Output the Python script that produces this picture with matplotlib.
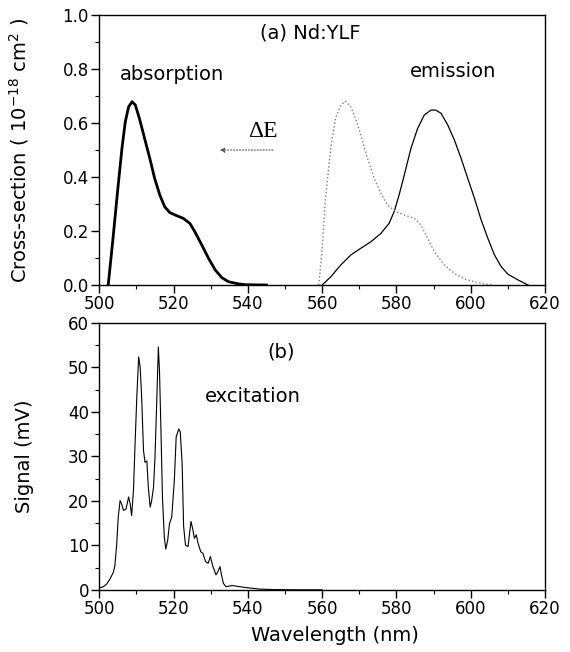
import matplotlib.pyplot as plt
from matplotlib.ticker import MultipleLocator, FormatStrFormatter

# === Data ===
# (a) absorption cross-section, thick line
abs_wl = [502.4, 503.6, 505.0, 506.1, 507.0, 507.9, 508.8, 509.7, 510.8, 512.2,
          513.6, 514.9, 516.3, 517.6, 519.0, 520.8, 522.6, 524.4, 525.7, 527.6,
          529.4, 531.2, 533.0, 534.8, 537.5, 539.3, 545.0]
abs_cs = [0.0, 0.16, 0.358, 0.506, 0.605, 0.66, 0.679, 0.667, 0.617, 0.543,
          0.469, 0.395, 0.333, 0.29, 0.268, 0.257, 0.247, 0.228, 0.198, 0.148,
          0.099, 0.056, 0.027, 0.012, 0.004, 0.001, 0.0]

# (a) emission cross-section, thin line
em_wl = [560.0, 562.3, 565.0, 567.7, 570.4, 573.1, 575.8, 578.0, 579.4, 580.7,
         582.1, 583.9, 585.7, 587.5, 589.3, 590.6, 592.0, 593.8, 595.6, 597.4,
         599.2, 601.0, 602.8, 604.6, 606.4, 608.2, 610.0, 612.7, 615.4]
em_cs = [0.0, 0.03, 0.074, 0.111, 0.136, 0.16, 0.191, 0.228, 0.272, 0.333,
         0.407, 0.506, 0.58, 0.63, 0.648, 0.648, 0.636, 0.593, 0.537, 0.469,
         0.395, 0.321, 0.241, 0.173, 0.111, 0.068, 0.04, 0.019, 0.0]

# (a) absorption shifted by Delta E, dotted
shift_wl = [559.1, 560.0, 560.9, 562.3, 563.6, 565.0, 566.3, 567.7, 569.0, 570.4,
            572.2, 574.0, 575.8, 577.6, 579.8, 582.1, 584.8, 586.6, 588.4, 590.2,
            592.9, 595.6, 598.3, 601.9, 605.5]
shift_cs = [0.0, 0.136, 0.321, 0.506, 0.617, 0.667, 0.681, 0.66, 0.617, 0.556,
            0.469, 0.395, 0.34, 0.296, 0.272, 0.259, 0.247, 0.222, 0.173, 0.123,
            0.074, 0.043, 0.022, 0.009, 0.0]

# (b) excitation spectrum
exc_wl = [500.0, 501.1, 502.0, 502.9, 503.8, 504.2, 504.7, 505.1, 505.6, 506.0,
          506.5, 507.2, 507.9, 508.3, 508.7, 509.2, 509.6, 510.1, 510.6, 511.0,
          511.4, 511.9, 512.3, 512.8, 513.2, 513.7, 514.1, 514.6, 515.0, 515.5,
          515.9, 516.2, 516.6, 517.0, 517.5, 517.9, 518.4, 518.9, 519.5, 520.2,
          520.7, 521.4, 521.8, 522.3, 522.7, 523.2, 523.9, 524.3, 524.7, 525.2,
          525.6, 526.1, 526.6, 527.3, 527.9, 528.6, 529.3, 529.9, 530.6, 531.4,
          531.9, 532.5, 532.9, 533.4, 534.1, 535.9, 537.7, 540.0, 543.2, 546.8,
          552.0, 560.0]
exc_sig = [0.45, 0.75, 1.35, 2.5, 4.0, 5.5, 10.4, 16.4, 20.1, 19.4,
           17.9, 18.2, 20.9, 19.4, 16.7, 22.4, 32.1, 43.4, 52.4, 50.1,
           43.4, 31.4, 28.7, 29.0, 23.1, 18.6, 20.1, 23.1, 29.9, 43.4,
           54.6, 49.4, 35.9, 20.9, 11.9, 9.2, 11.1, 14.9, 16.4, 24.6,
           34.4, 36.2, 35.5, 28.4, 14.3, 10.1, 9.75, 12.75, 15.4, 13.5,
           11.6, 12.4, 10.5, 8.6, 8.25, 6.4, 6.0, 7.5, 5.25, 3.4,
           4.1, 5.25, 3.4, 1.5, 0.75, 1.0, 0.75, 0.5, 0.2, 0.1,
           0.05, 0.05]

plt.rcParams['font.family'] = ['DejaVu Sans']
plt.rcParams['mathtext.fontset'] = 'dejavusans'

fig = plt.figure(figsize=(5.7, 6.52), dpi=100)
ax1 = fig.add_axes([0.1742, 0.5629, 0.782, 0.414])
ax2 = fig.add_axes([0.1742, 0.0951, 0.782, 0.4095])

# === (a) cross-sections ===
ax1.plot(abs_wl, abs_cs, color='black', lw=2.0)
ax1.plot(em_wl, em_cs, color='black', lw=0.9)
ax1.plot(shift_wl, shift_cs, color='#808080', lw=1.0, ls=':')
ax1.annotate('', xy=(531.6, 0.5), xytext=(547.5, 0.5),
             arrowprops=dict(arrowstyle='-|>', color='#555555', lw=0.8,
                             ls=':', mutation_scale=7))
ax1.text(544.1, 0.57, 'ΔE', family='Liberation Serif', fontsize=17,
         ha='center', va='center')
ax1.text(556.8, 0.933, '(a) Nd:YLF', ha='center', va='center', fontsize=14)
ax1.text(519.5, 0.778, 'absorption', ha='center', va='center', fontsize=14)
ax1.text(595.3, 0.79, 'emission', ha='center', va='center', fontsize=14)

ax1.set_xlim(500, 620)
ax1.set_ylim(0, 1.0)
ax1.xaxis.set_major_locator(MultipleLocator(20))
ax1.xaxis.set_minor_locator(MultipleLocator(10))
ax1.yaxis.set_major_locator(MultipleLocator(0.2))
ax1.yaxis.set_minor_locator(MultipleLocator(0.1))
ax1.yaxis.set_major_formatter(FormatStrFormatter('%.1f'))
ax1.set_ylabel(r'Cross-section ( 10$^{-18}$ cm$^{2}$ )', fontsize=14)
ax1.yaxis.set_label_coords(-0.153, 0.5)

# === (b) excitation ===
ax2.plot(exc_wl, exc_sig, color='black', lw=0.8)
ax2.text(549.0, 53.5, '(b)', ha='center', va='center', fontsize=14)
ax2.text(541.3, 43.4, 'excitation', ha='center', va='center', fontsize=14)
ax2.set_xlim(500, 620)
ax2.set_ylim(0, 60)
ax2.xaxis.set_major_locator(MultipleLocator(20))
ax2.xaxis.set_minor_locator(MultipleLocator(10))
ax2.yaxis.set_major_locator(MultipleLocator(10))
ax2.yaxis.set_minor_locator(MultipleLocator(5))
ax2.set_xlabel('Wavelength (nm)', fontsize=14)
ax2.set_ylabel('Signal (mV)', fontsize=14)
ax2.xaxis.set_label_coords(0.529, -0.135)
ax2.yaxis.set_label_coords(-0.146, 0.5)

for ax in (ax1, ax2):
    ax.tick_params(which='major', direction='out', length=5.5, width=1.0,
                   labelsize=12, pad=2)
    ax.tick_params(which='minor', direction='out', length=3, width=0.8)
    for s in ax.spines.values():
        s.set_linewidth(1.0)

fig.savefig('out.png', dpi=100)
